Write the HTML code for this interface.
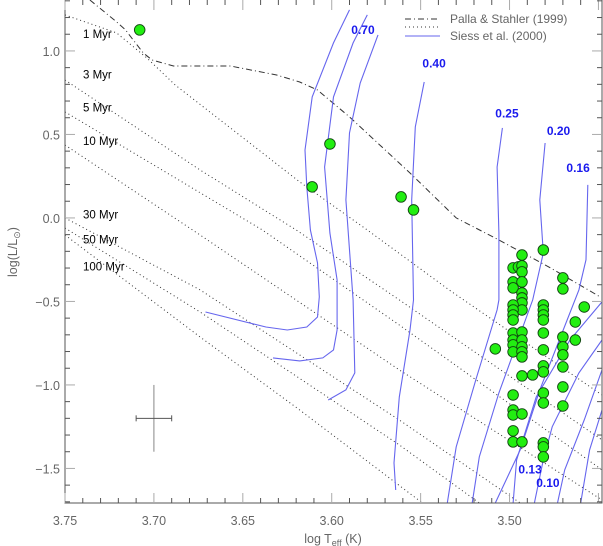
<!DOCTYPE html>
<html><head><meta charset="utf-8"><style>
html,body{margin:0;padding:0;background:#fff;width:603px;height:546px;overflow:hidden}
svg{display:block;font-family:"Liberation Sans",sans-serif}
</style></head><body>
<svg id="chart" width="603" height="546" viewBox="0 0 603 546">
<defs><clipPath id="plotclip"><rect x="65" y="0" width="537" height="503"/></clipPath></defs>
<g id="curves" clip-path="url(#plotclip)"></g>
<g id="pts" clip-path="url(#plotclip)"></g>
<g id="axes"></g>
<g id="labels"></g>
</svg>
<script>
// scatter data (log Teff, log L)
const pointT = [3.708,3.601,3.611,3.561,3.554,3.493,3.481,3.498,3.495,3.493,3.493,3.470,3.470,3.498,3.498,3.493,3.493,3.493,3.493,3.493,3.498,3.498,3.498,3.498,3.458,3.481,3.481,3.481,3.481,3.463,3.508,3.498,3.498,3.498,3.498,3.493,3.493,3.493,3.493,3.493,3.481,3.481,3.470,3.470,3.470,3.470,3.463,3.481,3.481,3.493,3.487,3.470,3.481,3.481,3.498,3.470,3.498,3.498,3.493,3.498,3.498,3.493,3.481,3.481,3.481];
const pointL = [1.126,0.443,0.186,0.126,0.048,-0.222,-0.192,-0.299,-0.293,-0.287,-0.323,-0.359,-0.425,-0.383,-0.419,-0.383,-0.449,-0.479,-0.509,-0.551,-0.521,-0.551,-0.581,-0.611,-0.533,-0.521,-0.551,-0.581,-0.611,-0.623,-0.784,-0.689,-0.731,-0.760,-0.802,-0.683,-0.731,-0.772,-0.802,-0.832,-0.689,-0.790,-0.713,-0.772,-0.820,-0.892,-0.731,-0.886,-0.922,-0.946,-0.940,-1.012,-1.048,-1.108,-1.060,-1.126,-1.150,-1.180,-1.174,-1.275,-1.341,-1.341,-1.347,-1.371,-1.431];
// Palla & Stahler birthline
const birthT = [3.736,3.721,3.716,3.706,3.701,3.689,3.657,3.631,3.618,3.608,3.590,3.556,3.530,3.506,3.478,3.449];
const birthL = [1.305,1.174,1.126,0.988,0.946,0.910,0.910,0.856,0.814,0.766,0.605,0.269,0,-0.132,-0.293,-0.473];
// isochrones
const isoNames = ["1 Myr","3 Myr","5 Myr","10 Myr","30 Myr","50 Myr","100 Myr"];
const isoT = [[3.750,3.721,3.704,3.688,3.618,3.580,3.534,3.448],[3.750,3.674,3.620,3.562,3.448],[3.750,3.639,3.562,3.448],[3.750,3.674,3.562,3.448],[3.750,3.674,3.562,3.494],[3.750,3.674,3.562,3.517],[3.750,3.674,3.618,3.549]];
const isoL = [[1.216,1.108,0.958,0.796,0.216,-0.072,-0.431,-1.060],[0.826,0.287,-0.072,-0.491,-1.329],[0.635,-0.072,-0.641,-1.509],[0.437,-0.102,-0.910,-1.689],[0,-0.431,-1.210,-1.707],[-0.060,-0.563,-1.359,-1.707],[-0.102,-0.713,-1.150,-1.707]];
const isoLabelL = [1.10,0.86,0.66,0.46,0.02,-0.13,-0.29];
// Siess tracks
const trackT = [[3.590,3.599,3.611,3.615,3.614,3.612,3.608,3.607,3.608,3.614,3.625,3.637,3.671],[3.580,3.588,3.599,3.604,3.601,3.597,3.597,3.599,3.605,3.618,3.633],[3.574,3.584,3.590,3.592,3.588,3.587,3.592,3.602],[3.548,3.553,3.555,3.554,3.556,3.562,3.565,3.564],[3.504,3.507,3.506,3.506,3.507,3.519,3.530,3.535],[3.480,3.483,3.481,3.487,3.506,3.517,3.521],[3.456,3.457,3.461,3.472,3.483,3.494,3.508],[3.448,3.466,3.485,3.496,3.498],[3.448,3.461,3.476,3.481,3.486],[3.448,3.458,3.469,3.473],[3.448,3.455,3.460]];
const trackL = [[1.246,1.048,0.725,0.407,0.186,-0.072,-0.269,-0.473,-0.593,-0.653,-0.671,-0.653,-0.563],[1.216,1.048,0.725,0.305,-0.090,-0.371,-0.671,-0.790,-0.838,-0.856,-0.838],[1.096,0.808,0.509,0.108,-0.491,-0.928,-1.030,-1.090],[0.814,0.545,0.108,-0.491,-0.671,-1.072,-1.467,-1.629],[0.539,0.305,-0.090,-0.491,-0.551,-0.970,-1.371,-1.707],[0.449,0.108,-0.210,-0.491,-1.048,-1.431,-1.707],[0.198,-0.251,-0.431,-0.731,-1.030,-1.389,-1.707],[-0.503,-0.731,-1.072,-1.449,-1.707],[-0.731,-0.928,-1.251,-1.449,-1.707],[-0.910,-1.210,-1.509,-1.707],[-1.150,-1.389,-1.707]];
const massLabels = ["0.70","0.40","0.25","0.20","0.16","0.13","0.10"];
const massLabelT = [3.589,3.549,3.508,3.479,3.468,3.495,3.485];
const massLabelL = [1.102,0.900,0.600,0.498,0.276,-1.53,-1.61];
const xTicks = [3.75,3.70,3.65,3.60,3.55,3.50];
const xTickLabels = ["3.75","3.70","3.65","3.60","3.55","3.50"];
const yTicks = [1.0,0.5,0.0,-0.5,-1.0,-1.5];
const yTickLabels = ["1.0","0.5","0.0","\u22120.5","\u22121.0","\u22121.5"];

const X0=65,X1=602,Y0=0,Y1=503,TMAX=3.75,TMIN=3.448,LMAX=1.305,LMIN=-1.707;
const sx=t=>X0+(TMAX-t)/(TMAX-TMIN)*(X1-X0);
const sy=l=>Y0+(LMAX-l)/(LMAX-LMIN)*(Y1-Y0);
const NS="http://www.w3.org/2000/svg";
function mk(tag,parent){const e=document.createElementNS(NS,tag);parent.appendChild(e);return e;}
function pathD(T,L){return T.map((t,i)=>(i?"L":"M")+sx(t).toFixed(1)+","+sy(L[i]).toFixed(1)).join("");}
const curves=document.getElementById("curves"),pts=document.getElementById("pts"),axes=document.getElementById("axes"),labels=document.getElementById("labels");

isoT.forEach((T,i)=>{const p=mk("path",curves);


p.setAttribute("d",pathD(T,isoL[i]));p.setAttribute("fill","none");p.setAttribute("stroke","#333");p.setAttribute("stroke-width","1");p.setAttribute("stroke-dasharray","1 3");
const t=mk("text",labels);


t.setAttribute("x",83);t.setAttribute("y",sy(isoLabelL[i])+4);t.setAttribute("font-size","11.5");t.setAttribute("fill","#000");t.textContent=isoNames[i];});

const bl=mk("path",curves);


bl.setAttribute("d",pathD(birthT,birthL));bl.setAttribute("fill","none");bl.setAttribute("stroke","#333");bl.setAttribute("stroke-dasharray","6 3 1 3");

trackT.forEach((T,i)=>{const p=mk("path",curves);


p.setAttribute("d",pathD(T,trackL[i]));p.setAttribute("fill","none");p.setAttribute("stroke","#6666ee");p.setAttribute("stroke-width","1.1");});

massLabels.forEach((m,i)=>{const t=mk("text",labels);


t.setAttribute("x",sx(massLabelT[i]));t.setAttribute("y",sy(massLabelL[i]));t.setAttribute("font-size","12");t.setAttribute("font-weight","bold");t.setAttribute("fill","#1a1aee");t.textContent=m;});

pointT.forEach((t,i)=>{const c=mk("circle",pts);


c.setAttribute("cx",sx(t));c.setAttribute("cy",sy(pointL[i]));c.setAttribute("r","5.3");c.setAttribute("fill","#22ee11");c.setAttribute("stroke","#114411");c.setAttribute("stroke-width","0.9");});

function ln(x1,y1,x2,y2,col,par,name){const l=mk("line",par||axes);l.setAttribute("x1",x1);l.setAttribute("y1",y1);l.setAttribute("x2",x2);l.setAttribute("y2",y2);l.setAttribute("stroke",col||"#555");l.setAttribute("stroke-width","1");

return l;}
ln(sx(3.70),sy(-1.0),sx(3.70),sy(-1.4),"#888",labels,"error-bar-vertical");
ln(sx(3.71),sy(-1.2),sx(3.69),sy(-1.2),"#555",labels,"error-bar-horizontal");
ln(sx(3.71),sy(-1.2)-3,sx(3.71),sy(-1.2)+3,"#555",labels,"error-bar-cap");
ln(sx(3.69),sy(-1.2)-3,sx(3.69),sy(-1.2)+3,"#555",labels,"error-bar-cap");

const fr=mk("rect",axes);


fr.setAttribute("x",X0);fr.setAttribute("y",-1);fr.setAttribute("width",X1-X0);fr.setAttribute("height",Y1+1);fr.setAttribute("fill","none");fr.setAttribute("stroke","#555");
for(let k=0;k<=30;k++){const t=3.75-k*0.01;const x=sx(t);if(x>X1)break;const major=k%5===0;const len=major?10:5;
ln(x,Y1,x,Y1-len,major?"#aaa":"#555");ln(x,0,x,len,major?"#aaa":"#555");}
for(let k=-17;k<=13;k++){const l=k/10;const y=sy(l);if(y<0||y>Y1)continue;const major=k%5===0;const len=major?10:5;
ln(X0,y,X0+len,y,major?"#aaa":"#555");ln(X1,y,X1-len,y,major?"#aaa":"#555");}
xTicks.forEach((t,i)=>{const e=mk("text",axes);


e.setAttribute("x",sx(t));e.setAttribute("y",525);e.setAttribute("text-anchor","middle");e.setAttribute("font-size","12.5");e.setAttribute("fill","#666");e.textContent=xTickLabels[i];});
yTicks.forEach((l,i)=>{const e=mk("text",axes);


e.setAttribute("x",60);e.setAttribute("y",sy(l)+5);e.setAttribute("text-anchor","end");e.setAttribute("font-size","12.5");e.setAttribute("fill","#666");e.textContent=yTickLabels[i];});
</script>
<div style="position:absolute;left:0;top:0;width:603px;height:546px;pointer-events:none">
<svg width="603" height="546" style="position:absolute;left:0;top:0">
<text x="333" y="543" text-anchor="middle" font-size="12.5" fill="#666" font-family="Liberation Sans, sans-serif">log T<tspan font-size="9" dy="3">eff</tspan><tspan dy="-3"> (K)</tspan></text>
<text transform="translate(17,252) rotate(-90)" text-anchor="middle" font-size="12.5" fill="#666" font-family="Liberation Sans, sans-serif">log(L/L<tspan font-size="9" dy="3">⊙</tspan><tspan dy="-3">)</tspan></text>
<g font-family="Liberation Sans, sans-serif" font-size="12" fill="#666">
<line x1="405" y1="19" x2="440" y2="19" stroke="#333" stroke-dasharray="6 3 1 3"/>
<line x1="405" y1="27" x2="440" y2="27" stroke="#333" stroke-dasharray="1 3"/>
<line x1="405" y1="36" x2="440" y2="36" stroke="#6666ee"/>
<text x="450" y="23">Palla &amp; Stahler (1999)</text>
<text x="450" y="40">Siess et al. (2000)</text>
</g>
</svg>
</div>
</body></html>
